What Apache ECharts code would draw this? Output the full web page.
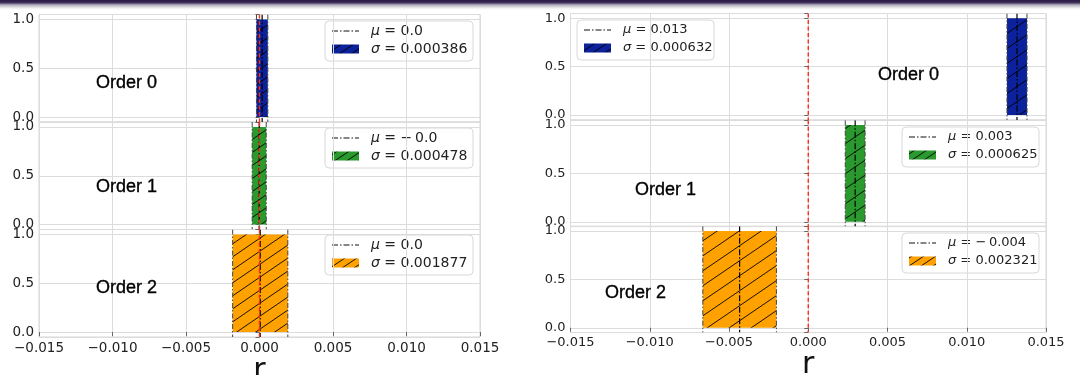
<!DOCTYPE html>
<html><head><meta charset="utf-8">
<script src="https://cdn.jsdelivr.net/npm/echarts@6/dist/echarts.min.js"></script>
<style>html,body{margin:0;padding:0;background:#fff}#c{width:1080px;height:375px}</style>
</head><body><div id="c"></div>
<script>
// ---- data ----
const orders = ['Order 0', 'Order 1', 'Order 2'];
const colors = ['#0b229c', '#2a9a2e', '#ffa200'];
const muLeft = [0.00018, -0.00002, 0.00005];
const sigmaLeft = [0.000386, 0.000478, 0.001877];
const muLabelLeft = ['0.0', '\u2212\u20090.0', '0.0'];
const muRight = [0.01317, 0.00296, -0.00433];
const sigmaRight = [0.000632, 0.000625, 0.002321];
const muLabelRight = ['0.013', '0.003', '\u2212\u20090.004'];
const xMin = -0.015, xMax = 0.015, xStep = 0.005;
const yMin = -0.05, yMax = 1.05;
const axisName = 'r';

// ---- layout ----
const panels = [
  { mu: muLeft, sigma: sigmaLeft, muLabel: muLabelLeft,
    left: 39, width: 441, tops: [14.5, 122, 229.5], height: 107.5, hatch: 19, fs: 13.5, lfs: 14,
    legend: [[325, 21], [325, 128], [325, 235]], legW: 148,
    text: [[96, 83], [96, 187], [96, 288]] },
  { mu: muRight, sigma: sigmaRight, muLabel: muLabelRight,
    left: 570.5, width: 475.5, tops: [13.5, 120.2, 226.2], height: 106.4, hatch: 22, fs: 13, lfs: 13,
    legend: [[577, 20], [902, 127], [902, 233]], legW: 137,
    text: [[878, 75], [635, 190], [605, 293]] }
];

function makePattern(color, W) {
  const H = Math.round(W * 0.7);
  const c = document.createElement('canvas');
  c.width = W; c.height = H;
  const g = c.getContext('2d');
  g.fillStyle = color; g.fillRect(0, 0, W, H);
  g.strokeStyle = '#000'; g.lineWidth = 0.9;
  g.beginPath(); g.moveTo(-W, 2 * H); g.lineTo(2 * W, -H); g.stroke();
  g.beginPath(); g.moveTo(-2 * W, 2 * H); g.lineTo(W, -H); g.stroke();
  g.beginPath(); g.moveTo(0, 2 * H); g.lineTo(3 * W, -H); g.stroke();
  return { image: c, repeat: 'repeat' };
}

const grids = [], xAxes = [], yAxes = [], series = [], graphics = [];
const fmtX = v => (Math.abs(v) < 1e-12 ? '0.000' : v.toFixed(3)).replace('-', '\u2212');
const fmtY = v => (Math.abs(v * 2 - Math.round(v * 2)) < 1e-9) ? v.toFixed(1) : '';

graphics.push({
  type: 'rect', shape: { x: 0, y: 0, width: 1080, height: 10 }, z: 200,
  style: { fill: { type: 'linear', x: 0, y: 0, x2: 0, y2: 1, colorStops: [
    { offset: 0, color: '#2a1745' }, { offset: 0.25, color: '#3b2d56' },
    { offset: 0.5, color: '#b4aebf' }, { offset: 0.8, color: '#eeeeee' }, { offset: 1, color: '#ffffff' }] } }
});

panels.forEach((P, p) => {
  for (let k = 0; k < 3; k++) {
    const idx = p * 3 + k;
    const bottom = k === 2;
    const pat = makePattern(colors[k], P.hatch);
    grids.push({ left: P.left, top: P.tops[k], width: P.width, height: P.height,
      show: true, borderColor: '#d6d6d6', borderWidth: 1, backgroundColor: 'transparent',
      containLabel: false, outerBoundsMode: 'none' });
    xAxes.push({ type: 'value', gridIndex: idx, min: xMin, max: xMax, interval: xStep,
      axisLine: { show: false },
      axisTick: { show: bottom, length: 4, lineStyle: { color: '#666' } },
      axisLabel: { show: bottom, formatter: fmtX, fontFamily: 'DejaVu Sans', fontSize: P.fs, color: '#222', margin: 4 },
      splitLine: { show: true, lineStyle: { color: '#dcdcdc', width: 1 } },
      name: bottom ? axisName : '', nameLocation: 'middle', nameGap: 11,
      nameTextStyle: { fontFamily: 'DejaVu Sans', fontSize: 30, color: '#111' } });
    yAxes.push({ type: 'value', gridIndex: idx, min: yMin, max: yMax, splitNumber: 2,
      axisLine: { show: false },
      axisTick: { show: true, length: 4, lineStyle: { color: '#666' } },
      axisLabel: { formatter: fmtY, fontFamily: 'DejaVu Sans', fontSize: P.fs, color: '#222', margin: 5 },
      splitLine: { show: true, lineStyle: { color: '#dcdcdc', width: 1 } } });
    series.push({
      type: 'custom', xAxisIndex: idx, yAxisIndex: idx,
      data: [[P.mu[k], P.sigma[k]]], encode: { x: 0, y: 1 }, clip: true,
      renderItem: function (params, api) {
        const mu = api.value(0), s = api.value(1);
        const cs = params.coordSys;
        const a = api.coord([mu - s, 1]), b = api.coord([mu + s, 0]);
        const xm = api.coord([mu, 0])[0], x0 = api.coord([0, 0])[0];
        const t = cs.y, bt = cs.y + cs.height;
        const vline = (x, st) => ({ type: 'line', shape: { x1: x, y1: t, x2: x, y2: bt }, style: st });
        return { type: 'group', children: [
          { type: 'rect', shape: { x: a[0], y: a[1], width: b[0] - a[0], height: b[1] - a[1] }, style: { fill: pat } },
          vline(a[0], { stroke: '#444', lineWidth: 1, lineDash: [5, 2, 1.5, 2] }),
          vline(b[0], { stroke: '#444', lineWidth: 1, lineDash: [5, 2, 1.5, 2] }),
          vline(xm, { stroke: '#000', lineWidth: 1.2, lineDash: [6, 2, 1.5, 2] }),
          vline(x0, { stroke: '#ff2a1a', lineWidth: 1.4, lineDash: [4, 2.5] })
        ] };
      }
    });
    graphics.push({ type: 'text', z: 100, x: P.text[k][0], y: P.text[k][1],
      style: { text: orders[k], fontFamily: 'Liberation Sans', fontSize: 18, fill: '#000', verticalAlign: 'middle',
               stroke: '#000', lineWidth: 0.35 } });
    const lx = P.legend[k][0], ly = P.legend[k][1];
    const rich = { i: { fontStyle: 'italic', fontFamily: 'DejaVu Sans', fontSize: P.lfs, fill: '#222' },
                   n: { fontFamily: 'DejaVu Sans', fontSize: P.lfs, fill: '#222' } };
    graphics.push({ type: 'group', z: 100, children: [
      { type: 'rect', shape: { x: lx, y: ly, width: P.legW, height: 40, r: 4 },
        style: { fill: 'rgba(255,255,255,0.85)', stroke: '#d8d8d8', lineWidth: 1 } },
      { type: 'line', shape: { x1: lx + 7, y1: ly + 10, x2: lx + 34, y2: ly + 10 },
        style: { stroke: '#111', lineWidth: 1.1, lineDash: [6, 2, 1.5, 2] } },
      { type: 'rect', shape: { x: lx + 7, y: ly + 23.5, width: 27, height: 9 }, style: { fill: makePattern(colors[k], 12) } },
      { type: 'text', x: lx + 46, y: ly + 10, style: { text: '{i|\u03bc}{n| = ' + P.muLabel[k] + '}', rich, verticalAlign: 'middle' } },
      { type: 'text', x: lx + 46, y: ly + 28, style: { text: '{i|\u03c3}{n| = ' + P.sigma[k].toFixed(6) + '}', rich, verticalAlign: 'middle' } }
    ] });
  }
});

const chart = echarts.init(document.getElementById('c'), null, { renderer: 'canvas' });
chart.setOption({ animation: false, backgroundColor: '#fff', grid: grids, xAxis: xAxes, yAxis: yAxes, series, graphic: graphics });
</script></body></html>
